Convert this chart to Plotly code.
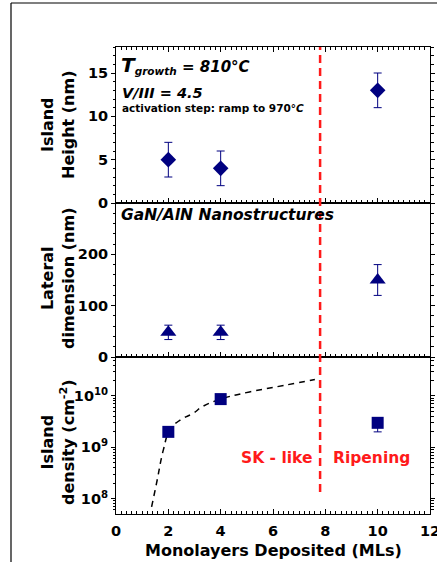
import plotly.graph_objects as go

# ---- data ----
ml = [2, 4, 10]
height_nm = [5, 4, 13]
height_err = [2, 2, 2]
lateral_nm = [48, 48, 150]
lateral_err = [14, 14, 30]
density = [2.0e9, 8.7e9, 3.0e9]
density_err_plus = [0.3e9, 0.8e9, 0.6e9]
density_err_minus = [0.3e9, 0.8e9, 1.0e9]
fit_ml = [1.36, 1.55, 1.81, 2.06, 2.45, 2.95, 3.3, 4.0, 5.1, 6.4, 7.6]
fit_density = [6.9e7, 2.0e8, 8.9e8, 2.2e9, 3.4e9, 4.6e9, 6.2e9, 8.7e9, 1.2e10, 1.6e10, 2.1e10]
transition_ml = 7.8
x_tickvals = [0, 2, 4, 6, 8, 10, 12]
h_tickvals = [0, 5, 10, 15]
l_tickvals = [0, 100, 200]
log_tickvals = [1e8, 1e9, 1e10]
log_ticktext = ["10<sup>8</sup>", "10<sup>9</sup>", "10<sup>10</sup>"]
log_minor = [m * 10 ** e for e in (7, 8, 9, 10) for m in range(2, 10)]

W, H = 437, 562
NAVY = "#000080"
RED = "#ff1a1a"
FONT = "DejaVu Sans, Verdana, sans-serif"

def px_x(p):
    return p / W

def px_y(p):
    return (H - p) / H

x_dom = [px_x(116), px_x(430)]
d1 = [px_y(203), px_y(47)]
d2 = [px_y(357), px_y(203)]
d3 = [px_y(514), px_y(357)]

fig = go.Figure()

fig.add_trace(go.Scatter(
    x=ml, y=height_nm, mode="markers", xaxis="x", yaxis="y",
    marker=dict(symbol="diamond", size=12, color=NAVY),
    error_y=dict(type="data", array=height_err, color=NAVY, thickness=1, width=4),
    showlegend=False))

fig.add_trace(go.Scatter(
    x=ml, y=lateral_nm, mode="markers", xaxis="x2", yaxis="y2",
    marker=dict(symbol="triangle-up", size=14, color=NAVY),
    error_y=dict(type="data", array=lateral_err, color=NAVY, thickness=1, width=4),
    showlegend=False))

fig.add_trace(go.Scatter(
    x=fit_ml, y=fit_density, mode="lines", xaxis="x3", yaxis="y3",
    line=dict(color="black", width=1.5, dash="6px,5px", shape="spline", smoothing=1.2),
    showlegend=False))

fig.add_trace(go.Scatter(
    x=ml, y=density, mode="markers", xaxis="x3", yaxis="y3",
    marker=dict(symbol="square", size=12, color=NAVY),
    error_y=dict(type="data", array=density_err_plus, arrayminus=density_err_minus,
                 color=NAVY, thickness=1, width=4),
    showlegend=False))

tickfont = dict(size=14.5, family=FONT, weight="bold", color="black")
xcommon = dict(range=[0, 12], domain=x_dom, showline=True, linecolor="black", linewidth=1,
               ticks="inside", ticklen=5, tickcolor="black", tickvals=x_tickvals,
               minor=dict(ticks="inside", ticklen=3, dtick=0.2, tick0=0, tickcolor="black"),
               showgrid=False, zeroline=False, ticklabeloverflow="allow", automargin=False)
ycommon = dict(showline=True, linecolor="black", linewidth=1, ticks="outside", ticklen=4,
               tickcolor="black", mirror="ticks", showgrid=False, zeroline=False,
               tickfont=tickfont, ticklabeloverflow="allow", automargin=False)

fig.update_layout(
    width=W, height=H, margin=dict(l=0, r=0, t=0, b=0, autoexpand=False),
    paper_bgcolor="white", plot_bgcolor="white",
    font=dict(family=FONT, color="black"),
    xaxis=dict(xcommon, anchor="y", mirror="ticks", showticklabels=False),
    xaxis2=dict(xcommon, anchor="y2", matches="x", mirror=True, showticklabels=False),
    xaxis3=dict(xcommon, anchor="y3", matches="x", mirror=True, showticklabels=True,
                tickfont=tickfont, ticklabelstandoff=4),
    yaxis=dict(ycommon, domain=d1, anchor="x", range=[0, 18], tickvals=h_tickvals,
               minor=dict(ticks="outside", ticklen=2.5, dtick=1, tick0=0, tickcolor="black")),
    yaxis2=dict(ycommon, domain=d2, anchor="x2", range=[0, 300], tickvals=l_tickvals,
                minor=dict(ticks="outside", ticklen=2.5, dtick=20, tick0=0, tickcolor="black")),
    yaxis3=dict(ycommon, domain=d3, anchor="x3", type="log", range=[7.7, 10.76],
                tickvals=log_tickvals, ticktext=log_ticktext,
                minor=dict(ticks="outside", ticklen=2.5, tickvals=log_minor, tickcolor="black")),
)

# transition line
fig.add_shape(type="line", xref="x", yref="paper", x0=transition_ml, x1=transition_ml,
              y0=px_y(492), y1=px_y(47), line=dict(color=RED, width=2.5, dash="8px,5px"))

# frame
fig.add_shape(type="line", xref="paper", yref="paper", x0=px_x(11), x1=px_x(11),
              y0=0, y1=px_y(3), line=dict(color="black", width=1.2))
fig.add_shape(type="line", xref="paper", yref="paper", x0=px_x(11), x1=1,
              y0=px_y(3), y1=px_y(3), line=dict(color="black", width=1.2))

def ann(text, xp, yp, size, color="black", style="normal", angle=0, xanchor="left"):
    fig.add_annotation(text=text, xref="paper", yref="paper", x=px_x(xp), y=px_y(yp),
                       xanchor=xanchor, yanchor="middle", showarrow=False, textangle=angle,
                       font=dict(size=size, family=FONT, weight="bold", style=style, color=color))

ann("<span style='font-size:20px'>T</span><sub>growth</sub> = 810°C", 119, 65, 15, style="italic")
ann("V/III = 4.5", 120, 93, 14.5, style="italic")
ann("activation step: ramp to 970°<i>C</i>", 120, 108, 10.5)
ann("GaN/AlN Nanostructures", 119, 215, 15.5, style="italic")
ann("SK - like", 276, 458, 15.5, color=RED, xanchor="center")
ann("Ripening", 371, 458, 15.5, color=RED, xanchor="center")

ann("Island<br>Height (nm)", 58, 125, 16, angle=-90, xanchor="center")
ann("Lateral<br>dimension (nm)", 58, 278, 16, angle=-90, xanchor="center")
ann("Island<br>density (cm<sup>-2</sup>)", 58, 442, 16, angle=-90, xanchor="center")
ann("Monolayers Deposited (MLs)", 273, 550, 16, xanchor="center")

fig.write_html("out.html")
